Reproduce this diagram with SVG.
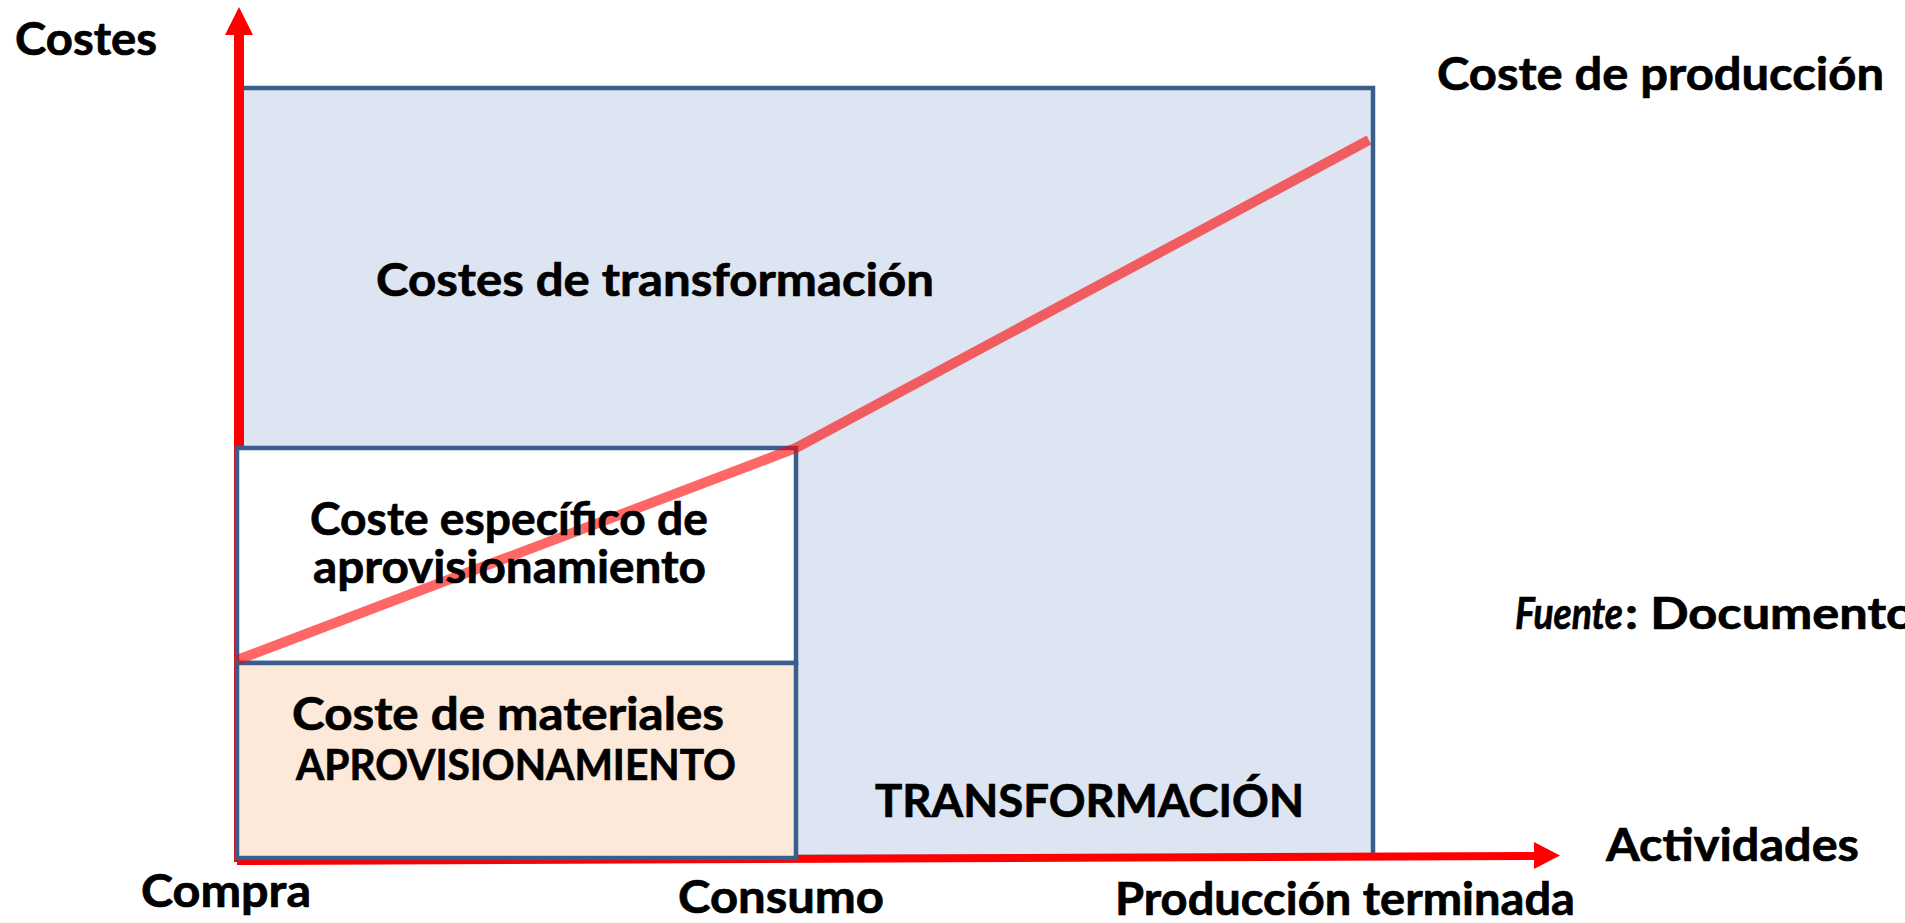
<svg xmlns="http://www.w3.org/2000/svg" width="1905" height="923" viewBox="0 0 1905 923">
<style>
text{font-family:Lato,"Liberation Sans",sans-serif;font-weight:bold;font-size:46px;fill:#000;stroke:#000;stroke-width:0.7px}
.box{stroke:#3A5D8C;stroke-width:4.5}
.axis{stroke:#FF0000;fill:none}
</style>
<rect width="1905" height="923" fill="#FFFFFF"/>
<g id="transformacion">
<rect class="box" x="239" y="88" width="1134" height="769" fill="#DCE5F1"/>
</g>
<g id="connectors">
<line class="axis" x1="239" y1="862" x2="239" y2="33" stroke-width="10"/>
<polygon points="239,7 225,35 253,35" fill="#FF0000"/>
<line class="axis" x1="237" y1="861" x2="1537" y2="856" stroke-width="8"/>
<polygon points="1560,855.5 1534,842 1534,869" fill="#FF0000"/>
</g>
<g id="especifico">
<rect class="box" x="237" y="448" width="559" height="215" fill="#FFFFFF"/>
</g>
<g id="materiales">
<rect class="box" x="237" y="663" width="559" height="195" fill="#FDE9D9"/>
</g>
<g id="coste-linea">
<polyline points="237,660 796,448 1369,140" fill="none" stroke="#FF0000" stroke-opacity="0.6" stroke-width="10"/>
</g>
<g id="labels">
<text x="15" y="55" textLength="142" lengthAdjust="spacingAndGlyphs">Costes</text>
<text x="1437" y="90" textLength="447" lengthAdjust="spacingAndGlyphs">Coste de producción</text>
<text x="376" y="296" textLength="558" lengthAdjust="spacingAndGlyphs">Costes de transformación</text>
<text x="310" y="535" textLength="398" lengthAdjust="spacingAndGlyphs">Coste específico de</text>
<text x="313" y="583" textLength="393" lengthAdjust="spacingAndGlyphs">aprovisionamiento</text>
<text x="292" y="730" textLength="432" lengthAdjust="spacingAndGlyphs">Coste de materiales</text>
<text x="296" y="780" textLength="440" lengthAdjust="spacingAndGlyphs" style="font-size:42px">APROVISIONAMIENTO</text>
<text x="875" y="817" textLength="429" lengthAdjust="spacingAndGlyphs">TRANSFORMACIÓN</text>
<text x="1606" y="861" textLength="253" lengthAdjust="spacingAndGlyphs">Actividades</text>
<text x="141" y="907" textLength="170" lengthAdjust="spacingAndGlyphs">Compra</text>
<text x="678" y="913" textLength="206" lengthAdjust="spacingAndGlyphs">Consumo</text>
<text x="1115" y="915" textLength="460" lengthAdjust="spacingAndGlyphs" style="font-size:45px">Producción terminada</text>
<text x="1515" y="629" style="font-size:43px"><tspan font-style="italic" textLength="108" lengthAdjust="spacingAndGlyphs">Fuente</tspan><tspan dx="2" textLength="290" lengthAdjust="spacingAndGlyphs">: Documento</tspan></text>
</g>
</svg>
